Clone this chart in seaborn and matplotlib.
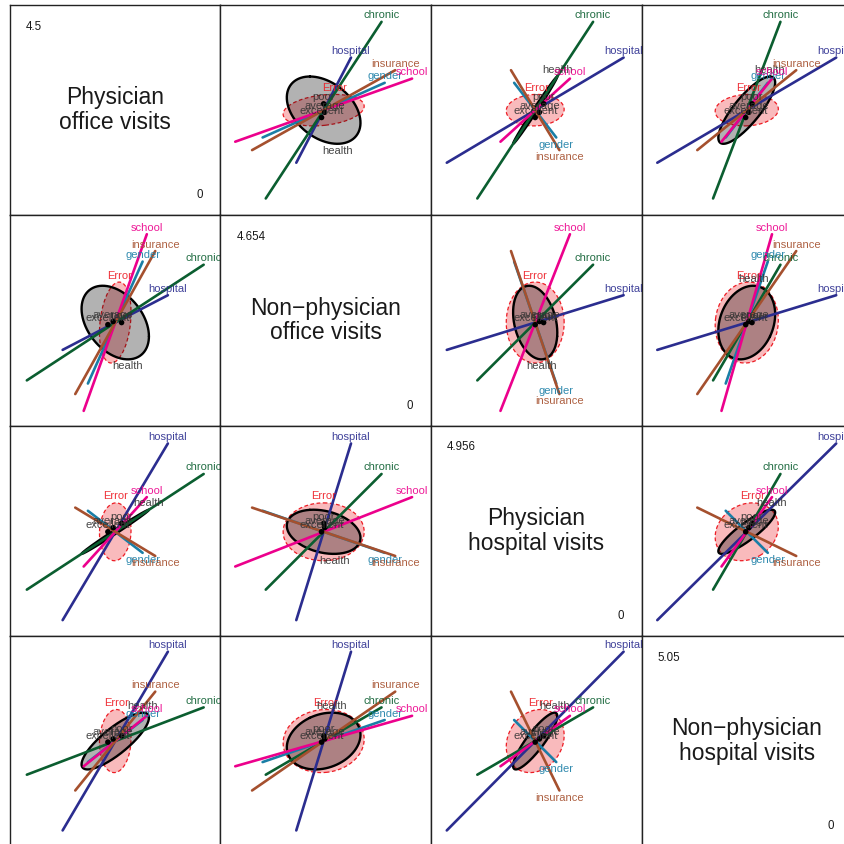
import numpy as np
import pandas as pd
import matplotlib
matplotlib.use("Agg")
import matplotlib.pyplot as plt
import seaborn as sns

# responses shown on the diagonal (name, data range)
var_names = ["Physician\noffice visits", "Non\u2212physician\noffice visits",
             "Physician\nhospital visits", "Non\u2212physician\nhospital visits"]
var_min = [0, 0, 0, 0]
var_max = [4.5, 4.654, 4.956, 5.05]

# grand mean of each response (scaled panel units, panel spans -1..1)
grand_mean = [0.0, -0.02, -0.01, 0.0]

# 1-df terms: half length of the (degenerate) H ellipse on each response
term_names = ["hospital", "chronic", "gender", "school", "insurance"]
hospital = [0.50, 0.26, 0.84, 0.85]
chronic = [0.84, 0.55, 0.55, 0.32]
gender = [0.26, 0.58, -0.20, 0.20]
school = [0.30, 0.84, 0.33, 0.24]
insurance = [0.38, 0.68, -0.23, 0.47]
term_vectors = [hospital, chronic, gender, school, insurance]
term_colors = {"hospital": "#2B2D8F", "chronic": "#0B5E30", "gender": "#1A7EA6",
               "school": "#EC008C", "insurance": "#A5502E"}

# health (2 df): size and direction of its H ellipse on each response
health_size = [0.32, 0.35, 0.21, 0.27]
health_angle = [0, 112, 6, 35]

# health level means, offsets from the grand mean
levels = ["poor", "average", "excellent"]
poor = [0.06, 0.0, 0.08, 0.05]
average = [-0.02, 0.01, 0.04, 0.02]
excellent = [-0.07, -0.02, 0.0, -0.01]
level_means = [poor, average, excellent]

# error ellipse: spread and correlations of the residuals
error_sd = [0.15, 0.385, 0.275, 0.30]
error_cor = [[1.0, 0.25, 0.05, 0.07],
             [0.25, 1.0, 0.0, 0.06],
             [0.05, 0.0, 1.0, 0.18],
             [0.07, 0.06, 0.18, 1.0]]
error_color = "#ED1C24"

sns.set_style("white")
plt.rcParams["font.family"] = ["Liberation Sans", "DejaVu Sans"]

theta = np.linspace(0, 2 * np.pi, 240)
circle = np.vstack([np.cos(theta), np.sin(theta)])


def error_ellipse(i, j):
    c = error_cor[i][j] * error_sd[i] * error_sd[j]
    S = np.array([[error_sd[i] ** 2, c], [c, error_sd[j] ** 2]])
    vals, vecs = np.linalg.eigh(S)
    L = vecs @ np.diag(np.sqrt(np.clip(vals, 0, None)))
    return L @ circle


def health_ellipse(i, j):
    a = np.radians(health_angle)
    M = np.array([[health_size[i] * np.cos(a[i]), health_size[i] * np.sin(a[i])],
                  [health_size[j] * np.cos(a[j]), health_size[j] * np.sin(a[j])]])
    return M @ circle


def put_label(ax, x, y, text, color, above):
    ax.annotate(text, (x, y), xytext=(0, 2.5 if above else -1.5),
                textcoords="offset points", ha="center",
                va="baseline" if above else "top", color=color,
                fontsize=8, clip_on=True, alpha=0.9)


def label_ellipse(ax, pts, cx, cy, text, color):
    r = np.corrcoef(pts)[0, 1]
    if r > 0:
        k = np.argmax(pts[1])
    else:
        k = np.argmin(pts[1])
    put_label(ax, pts[0, k] + cx, pts[1, k] + cy, text, color, r > 0)


W, H = 845, 844
fig = plt.figure(figsize=(W / 100, H / 100), dpi=100)
left0, top0, cell_w, cell_h = 10, 5, 210.5, 210.3

for r in range(4):
    for c in range(4):
        x0 = left0 + c * cell_w
        y0 = top0 + r * cell_h
        ax = fig.add_axes([x0 / W, 1 - (y0 + cell_h) / H, cell_w / W, cell_h / H])
        ax.set_xlim(-1, 1)
        ax.set_ylim(-1, 1)

        if r == c:
            ax.text(0.5, 0.5, var_names[r], transform=ax.transAxes, ha="center",
                    va="center", fontsize=16.5, linespacing=1.1, color="#1a1a1a")
            ax.text(0.075, 0.897, f"{var_max[r]:g}", transform=ax.transAxes,
                    ha="left", va="center", fontsize=8.3, color="#1a1a1a")
            ax.text(0.90, 0.095, f"{var_min[r]:g}", transform=ax.transAxes,
                    ha="center", va="center", fontsize=8.3, color="#1a1a1a")
        else:
            cx, cy = grand_mean[c], grand_mean[r]

            # error ellipse
            e = error_ellipse(c, r)
            ax.fill(e[0] + cx, e[1] + cy, color=error_color, alpha=0.3, lw=0, zorder=1)
            ax.plot(e[0] + cx, e[1] + cy, color=error_color, lw=0.9, ls=(0, (3, 2)), zorder=1.2)

            # health ellipse
            h = health_ellipse(c, r)
            ax.fill(h[0] + cx, h[1] + cy, color="black", alpha=0.3, lw=0, zorder=1.4)
            ax.plot(h[0] + cx, h[1] + cy, color="black", lw=1.7, zorder=1.5)

            # 1-df terms as lines through the grand mean
            rows = []
            for name, v in zip(term_names, term_vectors):
                rows.append({"term": name, "x": cx - v[c], "y": cy - v[r]})
                rows.append({"term": name, "x": cx + v[c], "y": cy + v[r]})
            seg = pd.DataFrame(rows)
            sns.lineplot(data=seg, x="x", y="y", hue="term", hue_order=term_names,
                         palette=term_colors, estimator=None, sort=False,
                         linewidth=1.9, legend=False, ax=ax, zorder=2)

            # level means
            mdf = pd.DataFrame({"level": levels,
                                "x": [cx + m[c] for m in level_means],
                                "y": [cy + m[r] for m in level_means]})
            sns.scatterplot(data=mdf, x="x", y="y", color="black", s=16,
                            edgecolor="none", legend=False, ax=ax, zorder=3)

            # labels
            label_ellipse(ax, e, cx, cy, "Error", error_color)
            for lv, mx, my in zip(levels, mdf["x"], mdf["y"]):
                put_label(ax, mx, my, lv, "#333333", True)
            label_ellipse(ax, h, cx, cy, "health", "#333333")
            for name, v in zip(term_names, term_vectors):
                up = v[c] * v[r] > 0
                sgn = 1 if v[r] > 0 else -1
                if not up:
                    sgn = -sgn
                put_label(ax, cx + sgn * v[c], cy + sgn * v[r], name,
                          term_colors[name], up)

            ax.set_xlim(-1, 1)
            ax.set_ylim(-1, 1)

        ax.set_xlabel("")
        ax.set_ylabel("")
        ax.set_xticks([])
        ax.set_yticks([])
        for sp in ax.spines.values():
            sp.set_visible(True)
            sp.set_color("#222222")
            sp.set_linewidth(1.0)

fig.savefig("out.png", dpi=100, facecolor="white")
